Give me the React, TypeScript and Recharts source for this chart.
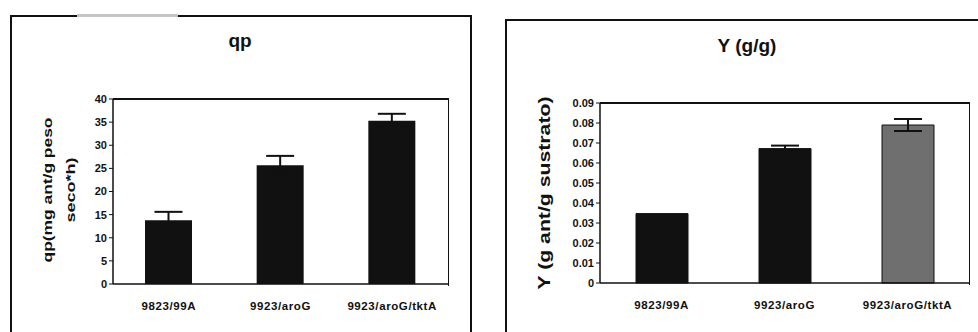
import React from "react";
import { BarChart, Bar, XAxis, YAxis, ErrorBar, Cell } from "recharts";

const categories = ["9823/99A", "9923/aroG", "9923/aroG/tktA"];
const qpValues = [13.8, 25.7, 35.3];
const qpErrors = [1.8, 2.0, 1.5];
const qpTicks = [0, 5, 10, 15, 20, 25, 30, 35, 40];
const yValues = [0.0347, 0.0672, 0.079];
const yErrors = [0, 0.0015, 0.003];
const yTicks = [0, 0.01, 0.02, 0.03, 0.04, 0.05, 0.06, 0.07, 0.08, 0.09];
const yFills = ["#111111", "#111111", "#6f6f6f"];

const qpData = categories.map((c, i) => ({ name: c, value: qpValues[i], err: qpErrors[i] }));
const yData = categories.map((c, i) => ({ name: c, value: yValues[i], err: yErrors[i] }));

const font = "'Liberation Sans', Arial, sans-serif";
const tickStyle = { fontSize: 11, fontWeight: 700, fill: "#111", fontFamily: font };
const catStyle = { fontSize: 11.5, fontWeight: 700, fill: "#111", fontFamily: font, letterSpacing: 0.6 };

export default function App() {
  return (
    <div style={{ position: "fixed", left: 0, top: 0, width: 978, height: 332, background: "#fff", overflow: "hidden" }}>
      <div style={{ position: "absolute", left: 10, top: 15, width: 458, height: 340, border: "2px solid #111" }} />
      <div style={{ position: "absolute", left: 77, top: 14, width: 101, height: 3, background: "#c4c4c4" }} />
      <div style={{ position: "absolute", left: 505, top: 19, width: 500, height: 340, border: "2px solid #111" }} />
      <div style={{ position: "absolute", left: 113, top: 98, width: 335, height: 186, borderTop: "2px solid #111", borderRight: "1.5px solid #111" }} />
      <div style={{ position: "absolute", left: 600, top: 102, width: 369, height: 181, borderTop: "2px solid #111", borderRight: "1.5px solid #111" }} />
      <div style={{ position: "absolute", left: 0, top: 0 }}>
        <BarChart width={489} height={332} data={qpData} margin={{ top: 99, right: 41, bottom: 18, left: 73 }}>
          <XAxis dataKey="name" tickLine={false} axisLine={{ stroke: "#111", strokeWidth: 1.5 }} tick={catStyle} interval={0} tickMargin={12} />
          <YAxis domain={[0, 40]} ticks={qpTicks} width={40} tick={tickStyle} tickSize={4} tickLine={{ stroke: "#111" }} axisLine={{ stroke: "#111", strokeWidth: 1.5 }} interval={0} />
          <Bar dataKey="value" fill="#111111" barSize={47} isAnimationActive={false}>
            <ErrorBar dataKey="err" width={14} stroke="#111" strokeWidth={2} direction="y" />
          </Bar>
        </BarChart>
      </div>
      <div style={{ position: "absolute", left: 489, top: 0 }}>
        <BarChart width={489} height={332} data={yData} margin={{ top: 103, right: 9, bottom: 19, left: 71 }}>
          <XAxis dataKey="name" tickLine={false} axisLine={{ stroke: "#111", strokeWidth: 1.5 }} tick={catStyle} interval={0} tickMargin={12} />
          <YAxis domain={[0, 0.09]} ticks={yTicks} width={40} tick={tickStyle} tickSize={4} tickLine={{ stroke: "#111" }} axisLine={{ stroke: "#111", strokeWidth: 1.5 }} interval={0} />
          <Bar dataKey="value" barSize={52} stroke="#111" strokeWidth={1} isAnimationActive={false}>
            {yData.map((d, i) => (
              <Cell key={d.name} fill={yFills[i]} />
            ))}
            <ErrorBar dataKey="err" width={14} stroke="#111" strokeWidth={2} direction="y" />
          </Bar>
        </BarChart>
      </div>
      <svg width={978} height={332} style={{ position: "absolute", left: 0, top: 0, pointerEvents: "none" }}>
        <text x={240} y={47} textAnchor="middle" fontFamily={font} fontWeight={700} fontSize={19} fill="#111">qp</text>
        <text x={747} y={52} textAnchor="middle" fontFamily={font} fontWeight={700} fontSize={19} fill="#111">Y (g/g)</text>
        <text transform="translate(52,190) rotate(-90)" textAnchor="middle" fontFamily={font} fontWeight={700} fontSize={13} fill="#111" textLength={145} lengthAdjust="spacingAndGlyphs">qp(mg ant/g peso</text>
        <text transform="translate(75,190) rotate(-90)" textAnchor="middle" fontFamily={font} fontWeight={700} fontSize={13} fill="#111" textLength={65} lengthAdjust="spacingAndGlyphs">seco*h)</text>
        <text transform="translate(550,193) rotate(-90)" textAnchor="middle" fontFamily={font} fontWeight={700} fontSize={17} fill="#111" textLength={193} lengthAdjust="spacingAndGlyphs">Y (g ant/g sustrato)</text>
      </svg>
    </div>
  );
}
